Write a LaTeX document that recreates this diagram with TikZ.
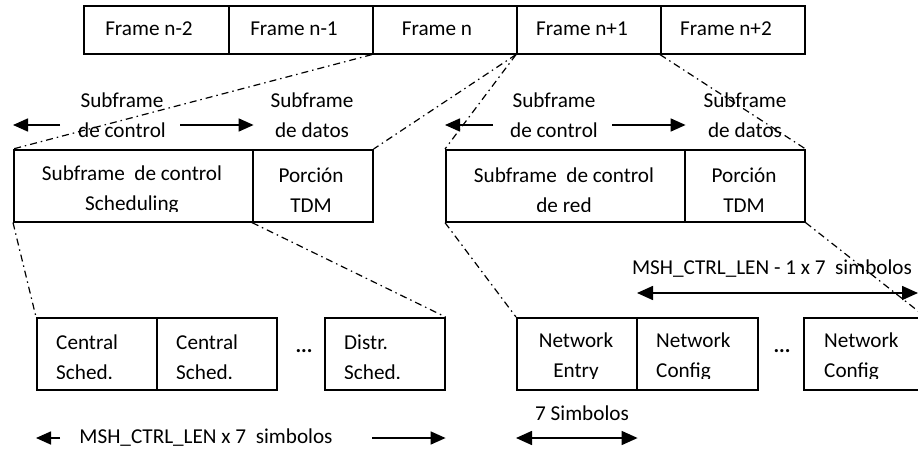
\documentclass[tikz,border=0pt]{standalone}
\usepackage{fontspec}
\setmainfont{Carlito}
\usetikzlibrary{arrows.meta}

\tikzset{
  box/.style={draw, line width=1.6pt, rectangle, inner sep=0pt, anchor=north west},
  lbl/.style={inner sep=0pt, align=center, font=\fontsize{21.2}{30}\selectfont},
  llbl/.style={lbl, align=left, anchor=west},
  dots/.style={lbl, font=\fontsize{21.2}{30}\selectfont\bfseries},
  zoomline/.style={line width=1.2pt, dash pattern=on 7pt off 4pt on 1.5pt off 4pt},
  bigarrow/.style={line width=1.6pt, -{Triangle[length=15pt,width=13pt]}},
  dblarrow/.style={line width=1.6pt, {Triangle[length=16pt,width=14pt]}-{Triangle[length=16pt,width=14pt]}}
}

\begin{document}
\begin{tikzpicture}[x=1pt,y=-1pt]
\useasboundingbox (0,0) rectangle (918,450);
\clip (0,0) rectangle (918,450);

% top row of frames
\node[box, minimum width=145pt, minimum height=48pt] (f1) at (83,5) {};
\node[box, minimum width=144pt, minimum height=48pt] (f2) at (228,5) {};
\node[box, minimum width=144pt, minimum height=48pt] (f3) at (372,5) {};
\node[box, minimum width=144pt, minimum height=48pt] (f4) at (516,5) {};
\node[box, minimum width=144pt, minimum height=48pt] (f5) at (660,5) {};
\node[lbl] (t1) at (149,29) {Frame n-2};
\node[lbl] (t2) at (294,29) {Frame n-1};
\node[lbl] (t3) at (437,29) {Frame n};
\node[lbl] (t4) at (582,29) {Frame n+1};
\node[lbl] (t5) at (726,29) {Frame n+2};

% frame n split into control and data subframes
\node[box, minimum width=239pt, minimum height=72pt] (ml1) at (13,149) {};
\node[box, minimum width=120pt, minimum height=72pt] (ml2) at (252,149) {};
% frame n+1 split into control and data subframes
\node[box, minimum width=239pt, minimum height=72pt] (mr1) at (445,149) {};
\node[box, minimum width=120pt, minimum height=72pt] (mr2) at (684,149) {};

% scheduling messages
\node[box, minimum width=120pt, minimum height=72pt] (bl1) at (36,317) {};
\node[box, minimum width=120pt, minimum height=72pt] (bl2) at (156,317) {};
\node[box, minimum width=120pt, minimum height=72pt] (bl3) at (324,317) {};
\node[dots] (bld) at (304,351) {...};
% network control messages
\node[box, minimum width=120pt, minimum height=72pt] (br1) at (516,317) {};
\node[box, minimum width=121pt, minimum height=72pt] (br2) at (636,317) {};
\node[box, minimum width=121pt, minimum height=72pt] (br3) at (803,317) {};
\node[dots] (brd) at (782,351) {...};

% box texts, cut off a little above the lower border
\begin{scope}
  \clip (ml1.north west) rectangle ([yshift=11pt]mr2.south east);
  \node[lbl] (ml1t) at (132,190) {Subframe\ \ de control\\Scheduling};
  \node[lbl] (ml2t) at (311,190) {Porción\\TDM};
  \node[lbl] (mr1t) at (564,190) {Subframe\ \ de control\\de red};
  \node[lbl] (mr2t) at (744,190) {Porción\\TDM};
\end{scope}
\begin{scope}
  \clip (bl1.north west) rectangle ([yshift=12pt]br3.south east);
  \node[llbl] (bl1t) at (56,357) {Central\\Sched.};
  \node[llbl] (bl2t) at (176,357) {Central\\Sched.};
  \node[llbl] (bl3t) at (344,357) {Distr.\\Sched.};
  \node[lbl] (br1t) at (576,357) {Network\\Entry};
  \node[llbl] (br2t) at (656,357) {Network\\Config};
  \node[llbl] (br3t) at (824,357) {Network\\Config};
\end{scope}

% zoom guide lines
\draw[zoomline] (f3.south west) -- (ml1.north west);
\draw[zoomline] (f4.south west) -- (ml2.north east);
\draw[zoomline] (f4.south west) -- (mr1.north west);
\draw[zoomline] (f5.south west) -- (mr2.north east);
\draw[zoomline] (ml1.south west) -- (bl1.north west);
\draw[zoomline] (ml2.south west) -- (bl3.north east);
\draw[zoomline] (mr1.south west) -- (br1.north west);
\draw[zoomline] (mr2.south east) -- (br3.north east);

% subframe labels, left
\node[lbl] (sl1) at (122,115) {Subframe\\de control};
\node[lbl] (sl2) at (312,115) {Subframe\\de datos};
\coordinate (al1) at (60,125);
\coordinate (al2) at (180,125);
\draw[bigarrow] (al1) -- (ml1.north west |- al1);
\draw[bigarrow] (al2) -- (ml1.north east |- al2);

% subframe labels, right
\node[lbl] (sr1) at (554,115) {Subframe\\de control};
\node[lbl] (sr2) at (745,115) {Subframe\\de datos};
\coordinate (ar1) at (493,125);
\coordinate (ar2) at (612,125);
\draw[bigarrow] (ar1) -- (mr1.north west |- ar1);
\draw[bigarrow] (ar2) -- (mr1.north east |- ar2);

% lengths
\node[lbl] (len1) at (206,438) {MSH\_CTRL\_LEN x 7\ \ simbolos};
\coordinate (bl4) at (60,438);
\coordinate (bl5) at (372,438);
\draw[bigarrow] (bl4) -- (bl1.south west |- bl4);
\draw[bigarrow] (bl5) -- (bl3.south east |- bl5);

\node[lbl] (len2) at (582,413) {7 Simbolos};
\draw[dblarrow] (br1.south west |- 0,438) -- (br1.south east |- 0,438);

\node[lbl] (len3) at (772,269) {MSH\_CTRL\_LEN - 1 x 7\ \ simbolos};
\coordinate (rl1) at (637,293);
\coordinate (rl2) at (918,293);
\draw[dblarrow] (rl1) -- (rl2);
\end{tikzpicture}
\end{document}
